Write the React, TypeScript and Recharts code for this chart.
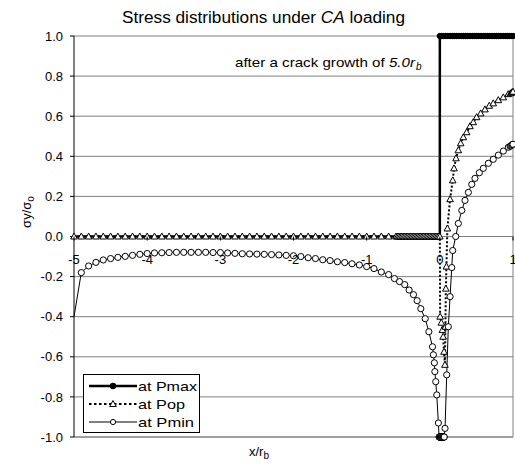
import React from 'react';
import { LineChart, Line, XAxis, YAxis, CartesianGrid, ReferenceLine, Legend } from 'recharts';

// ---------- data ----------
const xTicks = [-5, -4, -3, -2, -1, 0, 1];
const yTicks = [-1, -0.8, -0.6, -0.4, -0.2, 0, 0.2, 0.4, 0.6, 0.8, 1];

const pmaxX = [-5, -4, -3, -2, -1, 0, 0, 0.025, 0.05, 0.075, 0.1, 0.125, 0.15, 0.175, 0.2, 0.225, 0.25, 0.275, 0.3, 0.325, 0.35, 0.375, 0.4, 0.425, 0.45, 0.475, 0.5, 0.525, 0.55, 0.575, 0.6, 0.625, 0.65, 0.675, 0.7, 0.725, 0.75, 0.775, 0.8, 0.825, 0.85, 0.875, 0.9, 0.925, 0.95, 0.975, 1];
const pmaxY = [0, 0, 0, 0, 0, 0, 1, 1, 1, 1, 1, 1, 1, 1, 1, 1, 1, 1, 1, 1, 1, 1, 1, 1, 1, 1, 1, 1, 1, 1, 1, 1, 1, 1, 1, 1, 1, 1, 1, 1, 1, 1, 1, 1, 1, 1, 1];

const popX = [-5, -4.9, -4.8, -4.7, -4.6, -4.5, -4.4, -4.3, -4.2, -4.1, -4, -3.9, -3.8, -3.7, -3.6, -3.5, -3.4, -3.3, -3.2, -3.1, -3, -2.9, -2.8, -2.7, -2.6, -2.5, -2.4, -2.3, -2.2, -2.1, -2, -1.9, -1.8, -1.7, -1.6, -1.5, -1.4, -1.3, -1.2, -1.1, -1, -0.9, -0.8, -0.7, -0.6,
  -0.58, -0.56, -0.54, -0.52, -0.5, -0.48, -0.46, -0.44, -0.42, -0.4, -0.38, -0.36, -0.34, -0.32, -0.3, -0.28, -0.26, -0.24, -0.22, -0.2, -0.18, -0.16, -0.14, -0.12, -0.1, -0.08, -0.06, -0.04, -0.02, 0,
  0.004, 0.02, 0.035, 0.045, 0.057, 0.07, 0.076, 0.082, 0.09, 0.103, 0.14, 0.176, 0.194, 0.221, 0.253, 0.285, 0.321, 0.367, 0.412, 0.457, 0.503, 0.558, 0.617, 0.676, 0.73, 0.799, 0.867, 0.935, 0.965, 0.98, 0.99, 1];
const popY = [0, 0, 0, 0, 0, 0, 0, 0, 0, 0, 0, 0, 0, 0, 0, 0, 0, 0, 0, 0, 0, 0, 0, 0, 0, 0, 0, 0, 0, 0, 0, 0, 0, 0, 0, 0, 0, 0, 0, 0, 0, 0, 0, 0, 0,
  0, 0, 0, 0, 0, 0, 0, 0, 0, 0, 0, 0, 0, 0, 0, 0, 0, 0, 0, 0, 0, 0, 0, 0, 0, 0, 0, 0, 0, 0,
  -0.4, -0.43, -0.466, -0.5, -0.575, -0.64, -0.45, -0.26, -0.15, 0.04, 0.186, 0.28, 0.34, 0.39, 0.43, 0.465, 0.495, 0.52, 0.55, 0.57, 0.595, 0.614, 0.634, 0.652, 0.664, 0.68, 0.694, 0.71, 0.714, 0.717, 0.72, 0.722];

const pminX = [-5, -4.9, -4.8, -4.7, -4.6, -4.5, -4.4, -4.3, -4.2, -4.1, -4, -3.9, -3.8, -3.7, -3.6, -3.5, -3.4, -3.3, -3.2, -3.1, -3, -2.9, -2.8, -2.7, -2.6, -2.5, -2.4, -2.3, -2.2, -2.1, -2, -1.9, -1.8, -1.7, -1.6, -1.5, -1.4, -1.3, -1.2, -1.1, -1, -0.9, -0.8, -0.7,
  -0.62, -0.55, -0.48, -0.42, -0.36, -0.31, -0.26, -0.2, -0.15, -0.1, -0.088, -0.075, -0.068, -0.056, -0.042, -0.02,
  -0.01, -0.0075, -0.005, -0.0025, 0, 0.0025, 0.005, 0.0075, 0.01, 0.0125, 0.015, 0.0175, 0.02, 0.0225, 0.025, 0.0275, 0.03, 0.0325, 0.035, 0.0375, 0.04, 0.0425, 0.045, 0.0475, 0.05, 0.0525, 0.055, 0.0575, 0.06,
  0.071, 0.094, 0.116, 0.14, 0.163, 0.176, 0.217, 0.253, 0.3, 0.344, 0.39, 0.436, 0.48, 0.54, 0.594, 0.663, 0.73, 0.8, 0.868, 0.936, 0.96, 0.97, 0.983, 0.99, 1];
const pminY = [-0.4, -0.18, -0.147, -0.129, -0.117, -0.11, -0.104, -0.099, -0.094, -0.089, -0.085, -0.082, -0.081, -0.08, -0.079, -0.079, -0.079, -0.079, -0.079, -0.08, -0.08, -0.082, -0.084, -0.086, -0.087, -0.088, -0.089, -0.09, -0.092, -0.094, -0.096, -0.1, -0.106, -0.11, -0.116, -0.12, -0.126, -0.13, -0.136, -0.142, -0.15, -0.16, -0.177, -0.19,
  -0.21, -0.225, -0.24, -0.267, -0.29, -0.32, -0.36, -0.41, -0.475, -0.55, -0.59, -0.63, -0.674, -0.724, -0.79, -0.93,
  -1, -1, -1, -1, -1, -1, -1, -1, -1, -1, -1, -1, -1, -1, -1, -1, -1, -1, -1, -1, -1, -1, -1, -1, -1, -1, -1, -1, -1,
  -0.957, -0.69, -0.45, -0.3, -0.155, -0.07, 0, 0.065, 0.13, 0.18, 0.22, 0.26, 0.29, 0.318, 0.34, 0.365, 0.385, 0.406, 0.426, 0.445, 0.45, 0.452, 0.456, 0.458, 0.46];

const seriesNames = ['at Pmax', 'at Pop', 'at Pmin'];

const zip = (xs: number[], ys: number[]) => xs.map((x, i) => ({ x, y: ys[i] }));
const pmaxData = zip(pmaxX, pmaxY);
const popData = zip(popX, popY);
const pminData = zip(pminX, pminY);

// ---------- layout ----------
const W = 515;
const H = 467;
const MARGIN = { top: 36, right: 2, bottom: 0, left: 34 };
const YAXIS_W = 40;
const XAXIS_H = 30;
const PLOT_H = H - MARGIN.top - MARGIN.bottom - XAXIS_H;
const FONT = '"Liberation Sans", Arial, sans-serif';
const LEGEND_TEXT_W = [59, 47, 56];

const XTick = (props: any) => {
  const { x, y, payload } = props;
  const y0 = y - PLOT_H / 2;
  return (
    <g>
      <line x1={x} x2={x} y1={y0} y2={y0 + 4} stroke="#000" strokeWidth={1} />
      <text x={x} y={y0 + 27} textAnchor="middle" fontSize={13} fontFamily={FONT} fill="#000">
        {payload.value}
      </text>
    </g>
  );
};

const pmaxDot = (props: any) => {
  const { cx, cy, payload, index } = props;
  if (payload.x < 0 || (payload.x === 0 && payload.y === 0)) return <g key={'pm' + index} />;
  return <circle key={'pm' + index} cx={cx} cy={cy} r={2.7} fill="#000" stroke="#000" />;
};

const triPoints = (cx: number, cy: number) =>
  `${cx},${cy - 3.5} ${cx - 3.3},${cy + 2.5} ${cx + 3.3},${cy + 2.5}`;

const popDot = (props: any) => {
  const { cx, cy, index } = props;
  return <polygon key={'po' + index} points={triPoints(cx, cy)} fill="#fff" stroke="#000" strokeWidth={1} />;
};

const pminDot = (props: any) => {
  const { cx, cy, index } = props;
  if (index === 0) return <g key={'pn' + index} />;
  return <circle key={'pn' + index} cx={cx} cy={cy} r={3.1} fill="#fff" stroke="#000" strokeWidth={1} />;
};

const LegendRow = ({ i, label }: { i: number; label: string }) => (
  <svg width={111} height={18} style={{ display: 'block' }}>
    {i === 0 && (
      <>
        <line x1={0} x2={48} y1={10} y2={10} stroke="#000" strokeWidth={2.6} />
        <circle cx={24} cy={10} r={3.2} fill="#000" />
      </>
    )}
    {i === 1 && (
      <>
        <line x1={0} x2={48} y1={10} y2={10} stroke="#000" strokeWidth={2} strokeDasharray="2.5 2.5" />
        <polygon points={triPoints(24, 10)} fill="#fff" stroke="#000" />
      </>
    )}
    {i === 2 && (
      <>
        <line x1={0} x2={48} y1={10} y2={10} stroke="#000" strokeWidth={1} />
        <circle cx={24} cy={10} r={2.6} fill="#fff" stroke="#000" />
      </>
    )}
    <text
      x={49}
      y={14.5}
      fontSize={13}
      fontFamily={FONT}
      fill="#000"
      textLength={LEGEND_TEXT_W[i] || 50}
      lengthAdjust="spacingAndGlyphs"
    >
      {label}
    </text>
  </svg>
);

const LegendBox = (props: any) => {
  const payload: any[] = props.payload && props.payload.length ? [...props.payload] : seriesNames.map((n) => ({ value: n }));
  payload.sort((a, b) => seriesNames.indexOf(a.value) - seriesNames.indexOf(b.value));
  return (
    <div
      style={{
        border: '1px solid #000',
        background: '#fff',
        width: 117,
        height: 59,
        boxSizing: 'border-box',
        padding: '1px 0 0 5px',
      }}
    >
      {payload.map((p: any, i: number) => (
        <LegendRow key={i} i={seriesNames.indexOf(p.value)} label={p.value} />
      ))}
    </div>
  );
};

export default function App() {
  return (
    <div style={{ position: 'absolute', left: 0, top: 0, width: W, height: H, background: '#fff' }}>
      <LineChart width={W} height={H} margin={MARGIN}>
        <CartesianGrid horizontal vertical={false} stroke="#808080" strokeWidth={1} />
        <XAxis
          type="number"
          dataKey="x"
          domain={[-5, 1]}
          ticks={xTicks}
          height={XAXIS_H}
          tickSize={0}
          tickMargin={0}
          tickLine={false}
          axisLine={{ stroke: '#808080' }}
          tick={<XTick />}
          interval={0}
        />
        <YAxis
          type="number"
          dataKey="y"
          domain={[-1, 1]}
          ticks={yTicks}
          width={YAXIS_W}
          tickSize={4}
          tickMargin={7}
          interval={0}
          tickFormatter={(v: number) => v.toFixed(1)}
          axisLine={{ stroke: '#000' }}
          tickLine={{ stroke: '#000' }}
          tick={{ fontSize: 13, fill: '#000', fontFamily: FONT }}
        />
        <ReferenceLine x={1} stroke="#808080" />
        <Line
          data={pmaxData}
          dataKey="y"
          name={seriesNames[0]}
          type="linear"
          stroke="#000"
          strokeWidth={2.5}
          dot={pmaxDot}
          activeDot={false}
          isAnimationActive={false}
        />
        <Line
          data={popData}
          dataKey="y"
          name={seriesNames[1]}
          type="linear"
          stroke="#000"
          strokeWidth={2}
          strokeDasharray="2 2"
          dot={popDot}
          activeDot={false}
          isAnimationActive={false}
        />
        <Line
          data={pminData}
          dataKey="y"
          name={seriesNames[2]}
          type="linear"
          stroke="#000"
          strokeWidth={1}
          dot={pminDot}
          activeDot={false}
          isAnimationActive={false}
        />
        <Legend
          layout="vertical"
          align="center"
          verticalAlign="middle"
          content={<LegendBox />}
          wrapperStyle={{ left: 83, top: 374, width: 117, height: 59 }}
        />
      </LineChart>
      <svg
        width={W}
        height={H}
        style={{ position: 'absolute', left: 0, top: 0, pointerEvents: 'none' }}
        fontFamily={FONT}
      >
        <text x={122} y={23} fontSize={16} fill="#000" textLength={283} lengthAdjust="spacingAndGlyphs">
          Stress distributions under <tspan fontStyle="italic">CA</tspan> loading
        </text>
        <text x={235} y={67} fontSize={13} fill="#000" textLength={180} lengthAdjust="spacingAndGlyphs">
          after a crack growth of <tspan fontStyle="italic">5.0r</tspan>
        </text>
        <text x={416} y={70} fontSize={10} fontStyle="italic" fill="#000">b</text>
        <text x={249} y={456} fontSize={13} fill="#000">
          x/r<tspan fontSize={10} dy={3}>b</tspan>
        </text>
        <text x={31} y={212} textAnchor="middle" fontSize={13} fill="#000" transform="rotate(-90, 31, 212)">
          σy/σ<tspan fontSize={10} dy={3}>o</tspan>
        </text>
      </svg>
    </div>
  );
}
